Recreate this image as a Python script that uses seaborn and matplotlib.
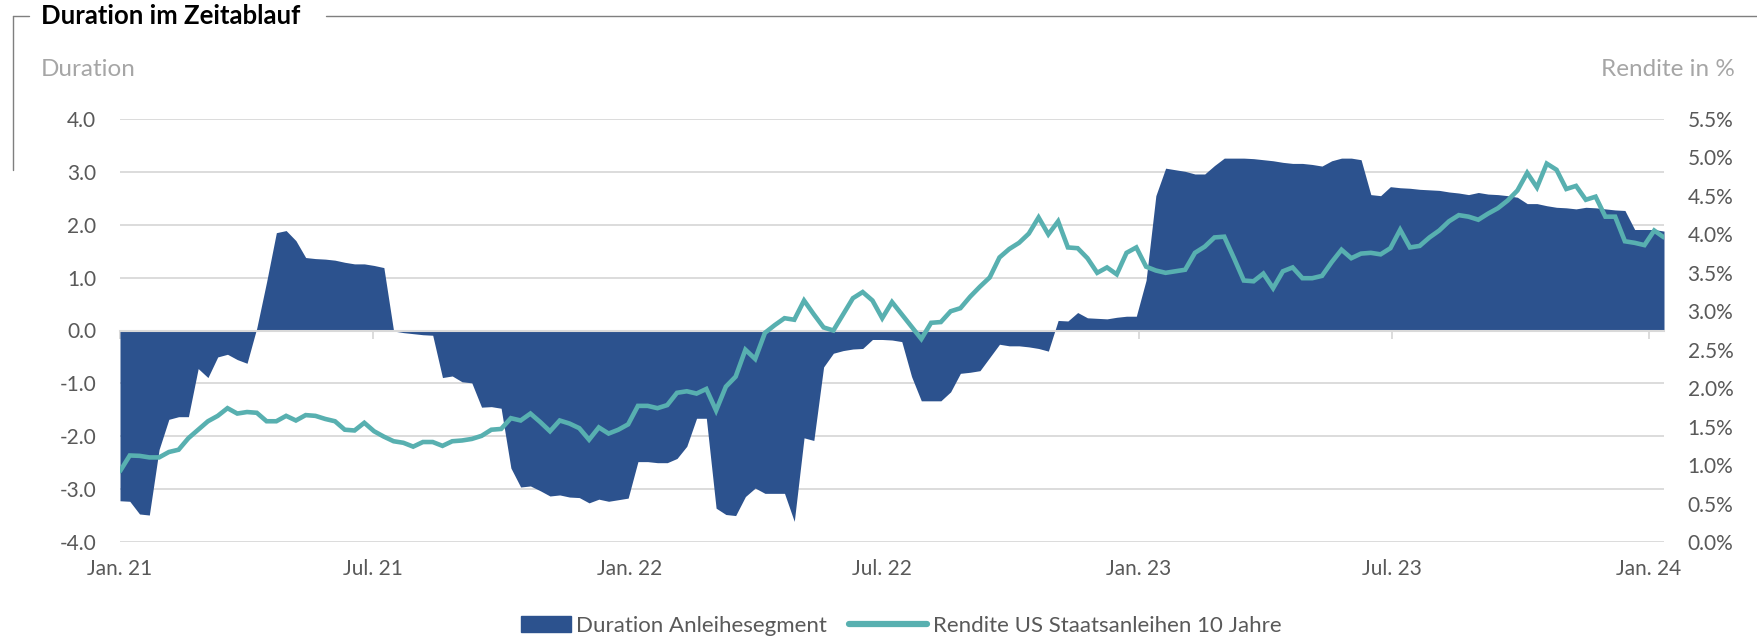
import numpy as np
import pandas as pd
import matplotlib
matplotlib.use("Agg")
import matplotlib.pyplot as plt
import matplotlib.dates as mdates
from matplotlib.patches import Patch, Rectangle
from matplotlib.lines import Line2D
from matplotlib.legend_handler import HandlerPatch
import seaborn as sns

# ---------------- data ----------------
start_date = "2021-01-01"          # weekly observations (Fridays)
duration = [
    -3.22, -3.23, -3.47, -3.49, -2.25, -1.68, -1.63, -1.63, -0.72, -0.89,
    -0.50, -0.45, -0.55, -0.62, 0.05, 0.92, 1.85, 1.89, 1.70, 1.38,
    1.36, 1.35, 1.33, 1.29, 1.26, 1.26, 1.23, 1.19, -0.01, -0.04,
    -0.06, -0.08, -0.09, -0.89, -0.86, -0.97, -0.99, -1.45, -1.44, -1.47,
    -2.60, -2.96, -2.94, -3.03, -3.13, -3.11, -3.15, -3.16, -3.26, -3.19,
    -3.23, -3.20, -3.17, -2.48, -2.48, -2.50, -2.50, -2.42, -2.19, -1.66,
    -1.66, -3.36, -3.48, -3.50, -3.14, -2.98, -3.08, -3.08, -3.08, -3.61,
    -2.03, -2.08, -0.69, -0.43, -0.38, -0.35, -0.34, -0.17, -0.17, -0.18,
    -0.21, -0.87, -1.33, -1.33, -1.33, -1.16, -0.81, -0.79, -0.76, -0.51,
    -0.26, -0.29, -0.29, -0.31, -0.34, -0.39, 0.19, 0.18, 0.34, 0.24,
    0.23, 0.22, 0.25, 0.27, 0.27, 0.95, 2.55, 3.07, 3.04, 3.01,
    2.96, 2.96, 3.12, 3.26, 3.26, 3.26, 3.25, 3.23, 3.21, 3.18,
    3.16, 3.16, 3.14, 3.11, 3.21, 3.26, 3.26, 3.23, 2.57, 2.55,
    2.72, 2.70, 2.69, 2.67, 2.66, 2.65, 2.62, 2.60, 2.57, 2.61,
    2.58, 2.57, 2.55, 2.52, 2.40, 2.40, 2.36, 2.33, 2.32, 2.30,
    2.33, 2.32, 2.30, 2.28, 2.27, 1.91, 1.91, 1.91, 1.88,
]
rendite = [
    0.92, 1.125, 1.12, 1.10, 1.10, 1.17, 1.20, 1.35, 1.46, 1.57,
    1.64, 1.74, 1.67, 1.69, 1.68, 1.57, 1.57, 1.64, 1.58, 1.65,
    1.64, 1.60, 1.57, 1.46, 1.45, 1.55, 1.44, 1.37, 1.31, 1.29,
    1.24, 1.30, 1.30, 1.25, 1.31, 1.32, 1.34, 1.38, 1.46, 1.47,
    1.61, 1.58, 1.67, 1.56, 1.44, 1.58, 1.54, 1.48, 1.33, 1.49,
    1.41, 1.46, 1.53, 1.77, 1.77, 1.74, 1.78, 1.94, 1.96, 1.93,
    1.99, 1.71, 2.02, 2.15, 2.50, 2.38, 2.72, 2.82, 2.91, 2.89,
    3.14, 2.96, 2.79, 2.75, 2.96, 3.17, 3.25, 3.14, 2.91, 3.12,
    2.96, 2.80, 2.64, 2.85, 2.86, 3.00, 3.04, 3.19, 3.32, 3.44,
    3.70, 3.81, 3.89, 4.01, 4.22, 4.00, 4.17, 3.83, 3.82, 3.69,
    3.50, 3.57, 3.48, 3.76, 3.83, 3.58, 3.53, 3.50, 3.52, 3.54,
    3.76, 3.84, 3.96, 3.97, 3.69, 3.40, 3.39, 3.49, 3.30, 3.52,
    3.57, 3.43, 3.43, 3.46, 3.64, 3.80, 3.69, 3.75, 3.76, 3.74,
    3.82, 4.06, 3.83, 3.85, 3.96, 4.05, 4.17, 4.25, 4.23, 4.19,
    4.27, 4.34, 4.44, 4.57, 4.80, 4.61, 4.92, 4.84, 4.59, 4.63,
    4.45, 4.49, 4.23, 4.23, 3.91, 3.89, 3.86, 4.05, 3.96,
]
tick_dates = ["2021-01-01", "2021-07-01", "2022-01-01", "2022-07-01",
              "2023-01-01", "2023-07-01", "2024-01-01"]
tick_labels = ["Jan. 21", "Jul. 21", "Jan. 22", "Jul. 22",
               "Jan. 23", "Jul. 23", "Jan. 24"]
left_ticks = [-4, -3, -2, -1, 0, 1, 2, 3, 4]
right_ticks = [0.0, 0.5, 1.0, 1.5, 2.0, 2.5, 3.0, 3.5, 4.0, 4.5, 5.0, 5.5]
series_names = ["Duration Anleihesegment", "Rendite US Staatsanleihen 10 Jahre"]

# ---------------- style ----------------
BLUE = "#2c528e"
TEAL = "#58b0b0"
GRID = "#d9d9d9"
TXT = "#595959"
LIGHT = "#a6a6a6"

sns.set_theme(style="white")
plt.rcParams["font.family"] = ["Lato", "DejaVu Sans"]

W, H = 1757, 639
fig = plt.figure(figsize=(W / 100, H / 100), dpi=100)
L, R, T, B = 120, 1664, 119, 542
ax = fig.add_axes([L / W, 1 - B / H, (R - L) / W, (B - T) / H])

dates = pd.date_range(start=start_date, periods=len(duration), freq="7D")
x = mdates.date2num(dates)
df = pd.DataFrame({"x": x, "duration": duration, "rendite": rendite})

# area (duration)
ax.fill_between(df["x"], 0, df["duration"], color=BLUE, lw=0, zorder=2)
ax.set_ylim(-4, 4)
ax.set_xlim(x[0], x[-1])
ax.set_yticks(left_ticks)
ax.set_yticklabels([f"{v:.1f}" for v in left_ticks])
ax.yaxis.grid(True, color=GRID, lw=1.3, zorder=0)
ax.set_axisbelow(True)
for s in ["left", "right", "top"]:
    ax.spines[s].set_visible(False)
ax.spines["bottom"].set_position(("data", 0))
ax.spines["bottom"].set_color(GRID)
ax.spines["bottom"].set_linewidth(1.5)
tick_x = mdates.date2num(pd.to_datetime(tick_dates))
ax.set_xticks(tick_x)
ax.tick_params(axis="x", direction="out", length=6, width=1.3, color=GRID,
               labelbottom=False, bottom=True)
ax.tick_params(axis="y", length=0, pad=17, labelsize=15, labelcolor=TXT)

# x labels at the bottom
sec = ax.secondary_xaxis("bottom")
sec.set_xticks(tick_x)
sec.set_xticklabels(tick_labels)
sec.tick_params(length=0, pad=12.5, labelsize=15, labelcolor=TXT)
sec.spines["bottom"].set_visible(False)

# line (yield) on right axis
ax2 = ax.twinx()
sns.lineplot(data=df, x="x", y="rendite", ax=ax2, color=TEAL, lw=3.3,
             solid_joinstyle="miter", zorder=3)
ax2.set_ylim(0, 5.5)
ax2.set_xlim(x[0], x[-1])
ax2.set_yticks(right_ticks)
ax2.set_yticklabels([f"{v:.1f}%" for v in right_ticks])
ax2.set_ylabel("")
ax2.set_xlabel("")
ax.set_xlabel("")
ax.set_ylabel("")
for s in ax2.spines.values():
    s.set_visible(False)
ax2.tick_params(axis="y", length=0, pad=17, labelsize=15, labelcolor=TXT)
ax2.grid(False)

# axis captions
fig.text(41 / W, 1 - 70 / H, "Duration", ha="left", va="center",
         fontsize=17.5, color=LIGHT)
fig.text(1735 / W, 1 - 70 / H, "Rendite in %", ha="right", va="center",
         fontsize=17.5, color=LIGHT)

# title with frame
fig.text(41 / W, 1 - 16 / H, "Duration im Zeitablauf", ha="left", va="center",
         fontsize=18.5, fontweight="bold", color="black")
frame_kw = dict(color="#7f7f7f", lw=1.0, transform=fig.transFigure)
fig.add_artist(Line2D([13 / W, 29 / W], [1 - 16 / H, 1 - 16 / H], **frame_kw))
fig.add_artist(Line2D([13 / W, 13 / W], [1 - 16 / H, 1 - 170 / H], **frame_kw))
fig.add_artist(Line2D([326 / W, 1.0], [1 - 16 / H, 1 - 16 / H], **frame_kw))

# legend: patch narrower than the line handle, right-aligned next to its text
PATCH_W = 36.0  # points


def narrow_patch(legend, orig_handle, xdescent, ydescent, width, height, fontsize):
    return Rectangle((-xdescent + width - PATCH_W, -ydescent), PATCH_W, height)


handles = [Patch(facecolor=BLUE, edgecolor=BLUE),
           Line2D([], [], color=TEAL, lw=4.5, solid_capstyle="round")]
fig.legend(handles, series_names, loc="center", ncol=2, frameon=False,
           bbox_to_anchor=(887 / W, 1 - 626 / H), fontsize=16,
           labelcolor=TXT, handlelength=3.5, handleheight=0.7,
           handletextpad=0.25, columnspacing=1.0,
           handler_map={Patch: HandlerPatch(patch_func=narrow_patch)})

fig.savefig("out.png", dpi=100)
